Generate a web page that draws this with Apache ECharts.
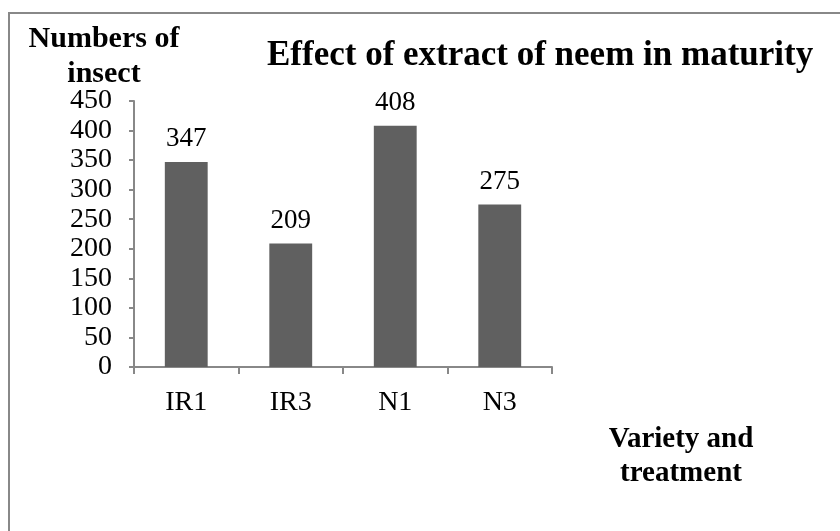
<!DOCTYPE html>
<html>
<head>
<meta charset="utf-8">
<script src="https://cdn.jsdelivr.net/npm/echarts@6/dist/echarts.min.js"></script>
<style>
html,body{margin:0;padding:0;background:#fff;}
#main{width:840px;height:531px;}
</style>
</head>
<body>
<div id="main"></div>
<script>
var categories = ['IR1', 'IR3', 'N1', 'N3'];
var insectCounts = [347, 209, 408, 275];
var yTicks = [0, 50, 100, 150, 200, 250, 300, 350, 400, 450];

var myChart = echarts.init(document.getElementById('main'));
var serif = '"Liberation Serif", "Times New Roman", serif';

var option = {
    backgroundColor: '#fff',
    animation: false,
    title: [{
        text: 'Effect of extract of neem in maturity',
        left: 262, top: 33,
        textStyle: {fontFamily: serif, fontSize: 35, fontWeight: 'bold', color: '#000'}
    }, {
        text: 'Numbers of\ninsect',
        left: 99, top: 17, textAlign: 'center',
        textStyle: {fontFamily: serif, fontSize: 30, fontWeight: 'bold', color: '#000', lineHeight: 35}
    }, {
        text: 'Variety and\ntreatment',
        left: 676, top: 418, textAlign: 'center',
        textStyle: {fontFamily: serif, fontSize: 29, fontWeight: 'bold', color: '#000', lineHeight: 34}
    }],
    grid: {left: 134, top: 101, right: 288, bottom: 164, containLabel: false},
    xAxis: {
        type: 'category',
        data: categories,
        axisLine: {lineStyle: {color: '#888', width: 2}},
        axisTick: {show: true, length: 7, lineStyle: {color: '#888', width: 2}},
        axisLabel: {fontFamily: serif, fontSize: 28, color: '#000', margin: 22}
    },
    yAxis: {
        type: 'value',
        min: yTicks[0], max: yTicks[yTicks.length - 1], interval: 50,
        splitLine: {show: false},
        axisLine: {show: true, lineStyle: {color: '#888', width: 2}},
        axisTick: {show: true, length: 5, lineStyle: {color: '#888', width: 2}},
        axisLabel: {fontFamily: serif, fontSize: 28, color: '#000', margin: 22}
    },
    series: [{
        type: 'bar',
        data: insectCounts,
        barWidth: '41%',
        itemStyle: {color: '#606060'},
        label: {show: true, position: 'top', distance: 9, fontFamily: serif, fontSize: 27, color: '#000'}
    }],
    graphic: [{
        type: 'polyline',
        shape: {points: [[9, 531], [9, 13], [840, 13]]},
        style: {stroke: '#888', lineWidth: 2, fill: null}
    }]
};
myChart.setOption(option);
</script>
</body>
</html>
